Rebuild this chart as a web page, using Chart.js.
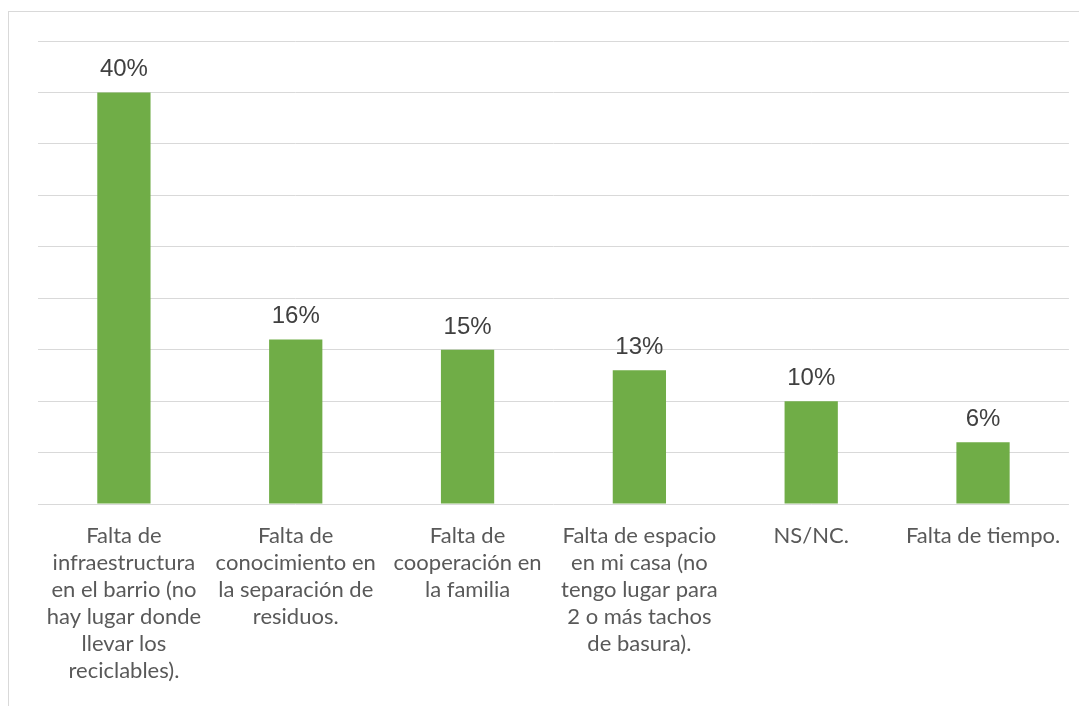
<!DOCTYPE html>
<html>
<head>
<meta charset="utf-8">
<script src="https://cdn.jsdelivr.net/npm/chart.js@4/dist/chart.umd.min.js"></script>
<style>
html,body{margin:0;padding:0;background:#fff;}
#wrap{width:1079px;height:706px;position:relative;}
</style>
</head>
<body>
<div id="wrap"><canvas id="c" width="1079" height="706"></canvas></div>
<script>
const categories = [
  ["Falta de","infraestructura","en el barrio (no","hay lugar donde","llevar los","reciclables)."],
  ["Falta de","conocimiento en","la separación de","residuos."],
  ["Falta de","cooperación en","la familia"],
  ["Falta de espacio","en mi casa (no","tengo lugar para","2 o más tachos","de basura)."],
  ["NS/NC."],
  ["Falta de tiempo."]
];
const values = [40, 16, 15, 13, 10, 6];
const valueLabels = ["40%", "16%", "15%", "13%", "10%", "6%"];

const frame = {
  id: 'frame',
  beforeDraw(chart) {
    const ctx = chart.ctx;
    ctx.save();
    ctx.fillStyle = '#ffffff';
    ctx.fillRect(0, 0, chart.width, chart.height);
    ctx.strokeStyle = '#d9d9d9';
    ctx.lineWidth = 1;
    ctx.strokeRect(8.5, 11.5, 1090, 720);
    ctx.restore();
  }
};

const valueLabelPlugin = {
  id: 'valueLabels',
  afterDatasetsDraw(chart) {
    const ctx = chart.ctx;
    const meta = chart.getDatasetMeta(0);
    ctx.save();
    ctx.font = '24px "Liberation Sans", Arial, sans-serif';
    ctx.fillStyle = '#404040';
    ctx.textAlign = 'center';
    ctx.textBaseline = 'alphabetic';
    meta.data.forEach((bar, i) => {
      ctx.fillText(valueLabels[i], bar.x, bar.y - 16);
    });
    ctx.restore();
  }
};

new Chart(document.getElementById('c'), {
  type: 'bar',
  data: {
    labels: categories,
    datasets: [{
      data: values,
      backgroundColor: '#70AD47',
      borderWidth: 0,
      categoryPercentage: 1.0,
      barPercentage: 0.31
    }]
  },
  options: {
    responsive: false,
    animation: false,
    devicePixelRatio: 1,
    layout: { padding: { left: 38, right: 10, top: 41, bottom: 4 } },
    plugins: { legend: { display: false }, tooltip: { enabled: false } },
    scales: {
      x: {
        grid: { display: false, drawTicks: false },
        border: { display: false },
        ticks: {
          autoSkip: false,
          maxRotation: 0,
          minRotation: 0,
          padding: 18,
          color: '#595959',
          font: { family: 'Lato, "Open Sans", sans-serif', size: 22, lineHeight: 1.227 }
        }
      },
      y: {
        min: 0,
        max: 45,
        ticks: { display: false, stepSize: 5 },
        grid: { color: '#d9d9d9', lineWidth: 1, drawTicks: false },
        border: { display: false }
      }
    }
  },
  plugins: [frame, valueLabelPlugin]
});
</script>
</body>
</html>
